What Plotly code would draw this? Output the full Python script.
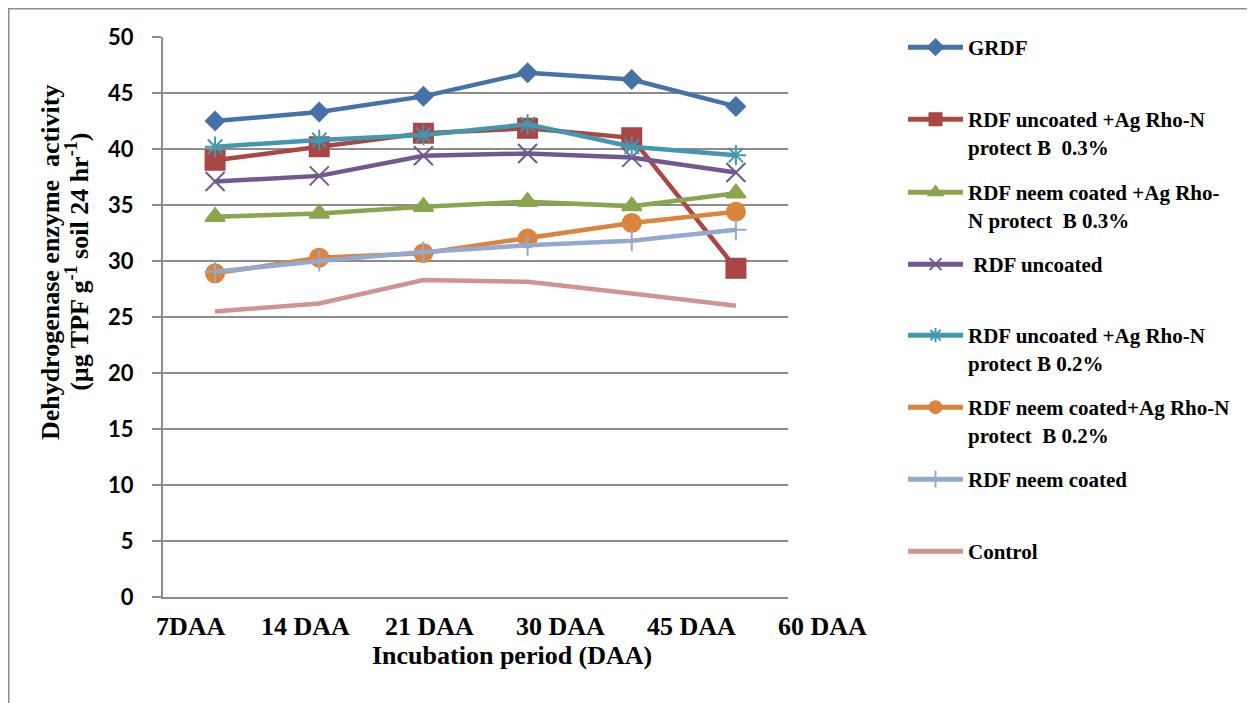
import plotly.graph_objects as go

# ---------------- data ----------------
categories = ["7DAA", "14 DAA", "21 DAA", "30 DAA", "45 DAA", "60 DAA"]

grdf = [42.5, 43.3, 44.7, 46.8, 46.2, 43.8]
rdf_uncoated_ag03 = [39.0, 40.2, 41.4, 41.85, 41.0, 29.35]
rdf_neem_ag03 = [33.95, 34.25, 34.85, 35.3, 34.9, 36.05]
rdf_uncoated = [37.1, 37.6, 39.4, 39.6, 39.25, 37.9]
rdf_uncoated_ag02 = [40.2, 40.8, 41.25, 42.2, 40.2, 39.45]
rdf_neem_ag02 = [28.9, 30.3, 30.7, 32.0, 33.4, 34.4]
rdf_neem = [29.05, 30.0, 30.8, 31.4, 31.8, 32.8]
control = [25.5, 26.2, 28.3, 28.15, 27.1, 26.0]

series_names = [
    "GRDF",
    "RDF uncoated +Ag Rho-N<br>protect B  0.3%",
    "RDF neem coated +Ag Rho-<br>N protect  B 0.3%",
    " RDF uncoated",
    "RDF uncoated +Ag Rho-N<br>protect B 0.2%",
    "RDF neem coated+Ag Rho-N<br>protect  B 0.2%",
    "RDF neem coated",
    "Control",
]
series_values = [grdf, rdf_uncoated_ag03, rdf_neem_ag03, rdf_uncoated,
                 rdf_uncoated_ag02, rdf_neem_ag02, rdf_neem, control]

y_ticks = [0, 5, 10, 15, 20, 25, 30, 35, 40, 45, 50]

# ---------------- styles ----------------
colors = ["#4572A7", "#AA4643", "#89A54E", "#71588F",
          "#4198AF", "#DB843D", "#93A9CF", "#D19392"]
symbols = ["diamond", "square", "triangle-up", "x-thin-open",
           "asterisk-open", "circle", "cross-thin-open", None]
sizes = [14, 19, 17, 19, 17, 18, 15, 0]

# label centre positions (paper fraction) of the category labels
label_x = [0.0448, 0.2272, 0.4256, 0.6352, 0.8448, 1.0544]
# legend entry top positions (paper fraction)
legend_y = [1.0179, 0.8893, 0.7589, 0.6304, 0.5036, 0.375, 0.2464, 0.1179]

serif = "Liberation Serif, Times New Roman, serif"

fig = go.Figure()
legend_layouts = {}
for i, (name, vals) in enumerate(zip(series_names, series_values)):
    lg = "legend" if i == 0 else f"legend{i + 1}"
    if symbols[i] is None:
        mode = "lines"
        marker = None
    else:
        mode = "lines+markers"
        marker = dict(symbol=symbols[i], size=sizes[i], color=colors[i],
                      line=dict(color=colors[i], width=2))
    fig.add_trace(go.Scatter(
        x=categories, y=vals, name=name, mode=mode,
        line=dict(color=colors[i], width=4.5),
        marker=marker, legend=lg,
    ))
    legend_layouts[lg] = dict(
        x=1.184, y=legend_y[i], xanchor="left", yanchor="top",
        font=dict(family=serif, size=21, color="black", weight="bold"),
        valign="top", itemwidth=55, itemsizing="constant",
        bgcolor="rgba(0,0,0,0)",
    )

annotations = []
for cx, txt in zip(label_x, categories):
    annotations.append(dict(
        x=cx, y=-0.0518, xref="paper", yref="paper", text=txt,
        showarrow=False, xanchor="center", yanchor="middle",
        font=dict(family=serif, size=26, color="black", weight="bold")))
annotations.append(dict(
    x=0.5584, y=-0.105, xref="paper", yref="paper",
    text="Incubation period (DAA)", showarrow=False,
    xanchor="center", yanchor="middle",
    font=dict(family=serif, size=26, color="black", weight="bold")))
annotations.append(dict(
    x=-0.1808, y=0.598, xref="paper", yref="paper",
    text="Dehydrogenase enzyme  activity", showarrow=False, textangle=-90,
    xanchor="center", yanchor="middle",
    font=dict(family=serif, size=26, color="black", weight="bold")))
annotations.append(dict(
    x=-0.138, y=0.598, xref="paper", yref="paper",
    text="(µg TPF g<sup>-1</sup> soil 24 hr<sup>-1</sup>)", showarrow=False,
    textangle=-90, xanchor="center", yanchor="middle",
    font=dict(family=serif, size=26, color="black", weight="bold")))

# the page body adds an 8px offset, so the figure is 8px smaller
fig.update_layout(
    width=1247, height=695,
    margin=dict(l=155, r=467, t=29, b=106, autoexpand=False),
    paper_bgcolor="white", plot_bgcolor="white",
    showlegend=True,
    xaxis=dict(
        type="category", range=[-0.5, 5.5], showgrid=False,
        showticklabels=False, ticks="", showline=True,
        linecolor="#8c8c8c", linewidth=2, zeroline=False, automargin=False,
    ),
    yaxis=dict(
        range=[0, 50], tickvals=y_ticks, showgrid=True,
        gridcolor="#8c8c8c", gridwidth=1.6, zeroline=False,
        showline=True, linecolor="#8c8c8c", linewidth=2,
        ticks="outside", ticklen=9, tickcolor="#8c8c8c", tickwidth=1.6,
        ticklabelstandoff=14, automargin=False,
        tickfont=dict(family="Lato, Open Sans, sans-serif", size=22,
                      color="black", weight="bold"),
    ),
    annotations=annotations,
    shapes=[dict(type="rect", xref="paper", yref="paper",
                 x0=-0.2468, x1=2.0, y0=-0.5, y1=1.0504,
                 line=dict(color="#8c8c8c", width=1.5),
                 fillcolor="rgba(0,0,0,0)", layer="below")],
    **legend_layouts,
)

fig.write_html("out.html")
